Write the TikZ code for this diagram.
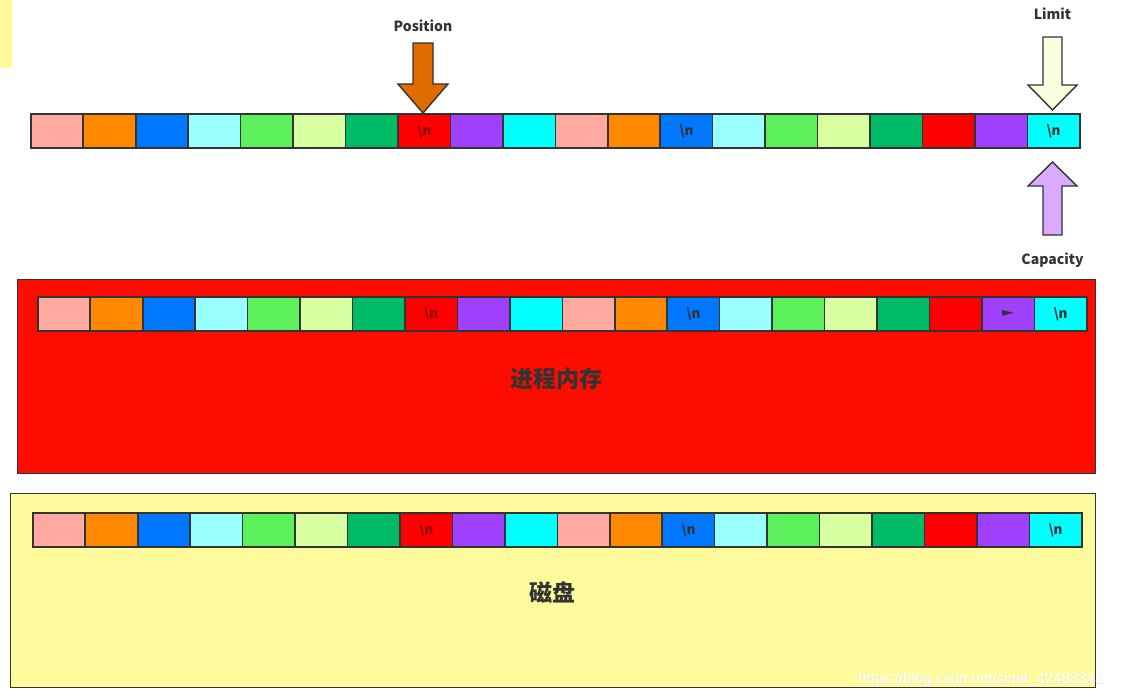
\documentclass[tikz,border=0pt]{standalone}
\usepackage{fontspec}
\setmainfont{Noto Sans CJK SC}
\newfontfamily\dejavu{DejaVu Sans}
\newfontfamily\wmfont{Liberation Sans}
\definecolor{cPink}{HTML}{FFA9A0}
\definecolor{cOrange}{HTML}{FF8800}
\definecolor{cBlue}{HTML}{0077FF}
\definecolor{cLCyan}{HTML}{99FFFF}
\definecolor{cGreen}{HTML}{5CF05C}
\definecolor{cLGreen}{HTML}{D8FFA0}
\definecolor{cDGreen}{HTML}{00BB66}
\definecolor{cRed}{HTML}{FF0000}
\definecolor{cPurple}{HTML}{A040FF}
\definecolor{cCyan}{HTML}{00FFFF}
\definecolor{memRed}{HTML}{FF0C00}
\definecolor{diskYellow}{HTML}{FFFB9C}
\definecolor{posOrange}{HTML}{E06C00}
\definecolor{limYellow}{HTML}{FAFFE0}
\definecolor{capPurple}{HTML}{D9AAFF}
\definecolor{txtDark}{HTML}{333333}
\definecolor{txtRed}{HTML}{8B0000}
\definecolor{edge}{HTML}{333333}
\tikzset{
  cellbox/.style={draw=edge, line width=1.6pt, minimum width=52.45pt, minimum height=34pt, inner sep=0pt, anchor=north west},
  celltxt/.style={font=\bfseries\fontsize{13.5}{13.5}\selectfont, text=txtDark},
  arrowshape/.style={draw=edge, line width=1.4pt, line join=miter},
  lbl/.style={font=\bfseries\fontsize{14}{14}\selectfont, text=txtDark},
  bigbox/.style={draw=edge, line width=1.4pt},
}
\begin{document}
\begin{tikzpicture}[x=1pt,y=-1pt]
\useasboundingbox (0,0) rectangle (1122,698);
\fill[white] (0,0) rectangle (1122,698);
% yellow strip at top-left
\fill[diskYellow] (0,0) rectangle (12,68);

% memory box
\node[bigbox, fill=memRed, minimum width=1078pt, minimum height=194pt, anchor=north west, inner sep=0pt] (mem) at (17,279) {};
% disk box
\node[bigbox, fill=diskYellow, minimum width=1085pt, minimum height=194pt, anchor=north west, inner sep=0pt] (disk) at (10,493) {};

% rows
\foreach \r/\x/\y in {a/30/113, b/37/296, c/32/512} {
  \foreach \c [count=\i from 0] in {cPink,cOrange,cBlue,cLCyan,cGreen,cLGreen,cDGreen,cRed,cPurple,cCyan,cPink,cOrange,cBlue,cLCyan,cGreen,cLGreen,cDGreen,cRed,cPurple,cCyan} {
    \node[cellbox, fill=\c] (\r\i) at ({\x+\i*52.45},\y) {};
  }
  \node[celltxt, text=txtRed] at (\r7) {\textbackslash n};
  \node[celltxt] at (\r12) {\textbackslash n};
  \node[celltxt] at (\r19) {\textbackslash n};
}
\node[font=\dejavu\fontsize{12}{12}\selectfont, text=txtDark, xscale=1.3] at (b18) {►};

% box labels
\node[font=\bfseries\fontsize{23}{23}\selectfont, text=txtDark] (memlbl) at (556,379) {进程内存};
\node[font=\bfseries\fontsize{23}{23}\selectfont, text=txtDark] (disklbl) at (552,593) {磁盘};

% Position arrow
\node[lbl] (poslbl) at (423,26) {Position};
\draw[arrowshape, fill=posOrange] (413,43) -- (433,43) -- (433,84) -- (448,84) -- (423,113) -- (398,84) -- (413,84) -- cycle;

% Limit arrow
\node[lbl] (limlbl) at (1052.5,14) {Limit};
\draw[arrowshape, fill=limYellow] (1043,37) -- (1062,37) -- (1062,85) -- (1077,85) -- (1052.5,110) -- (1028,85) -- (1043,85) -- cycle;

% Capacity arrow
\draw[arrowshape, fill=capPurple] (1043,235) -- (1062,235) -- (1062,186) -- (1077,186) -- (1052.5,162) -- (1028,186) -- (1043,186) -- cycle;
\node[lbl] (caplbl) at (1052.5,260) {Capacity};

% watermark
\node[font=\wmfont\fontsize{15}{15}\selectfont, text=black!12, anchor=west, opacity=0.6] at (855.8,680.8) {https://blog.csdn.net/sinat\_42483341};
\node[font=\wmfont\fontsize{15}{15}\selectfont, text=white, anchor=west] (wm) at (855,680) {https://blog.csdn.net/sinat\_42483341};
\end{tikzpicture}
\end{document}
